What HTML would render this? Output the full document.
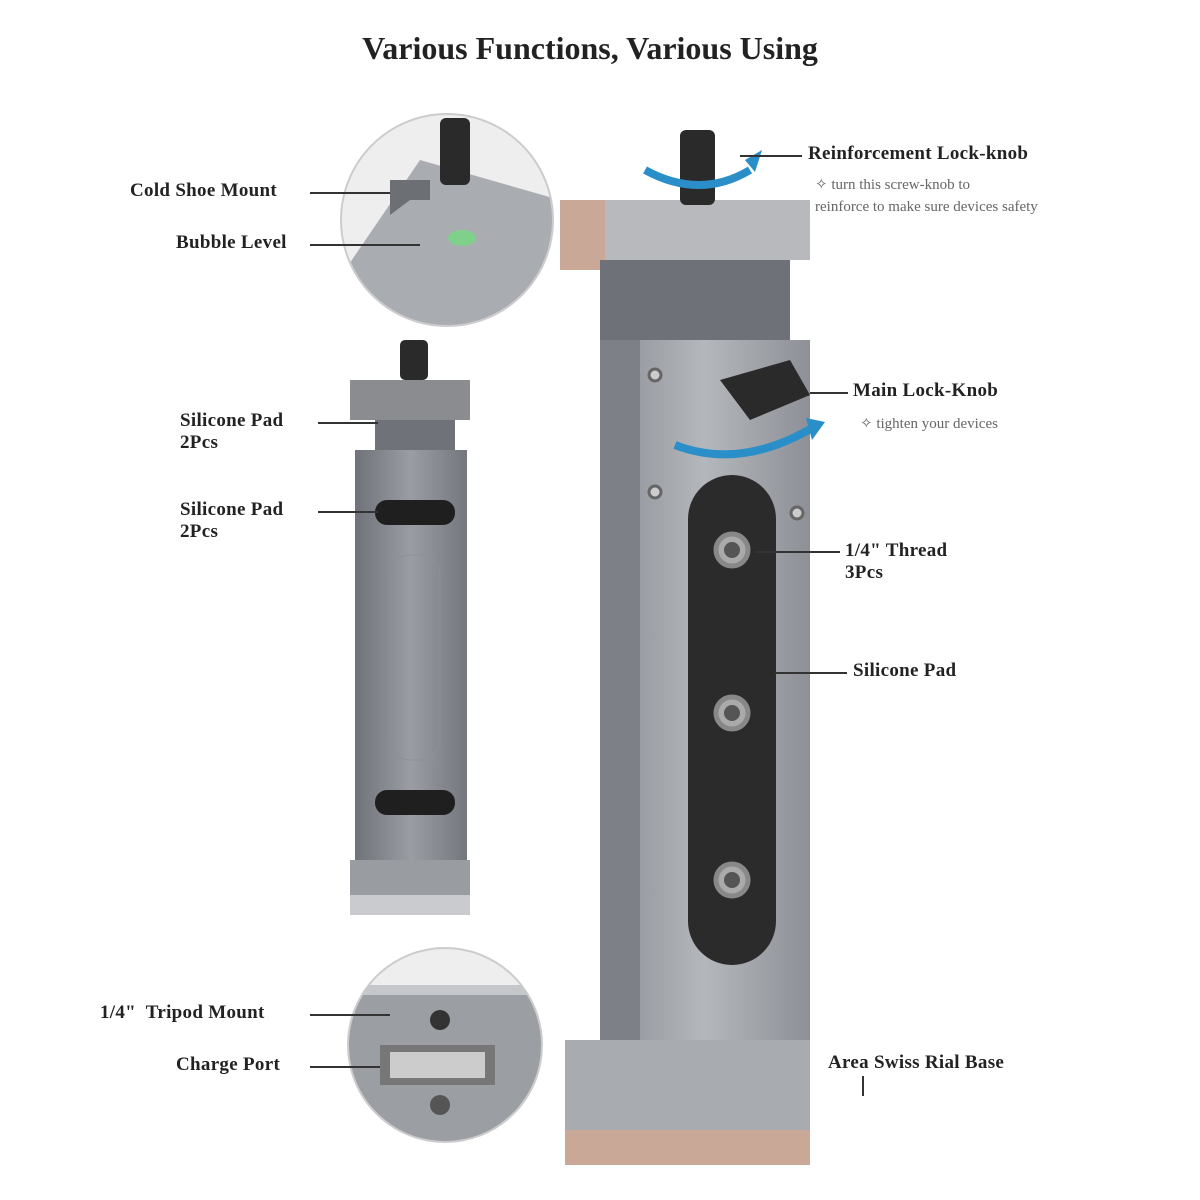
<!DOCTYPE html>
<html><head><style>
body{margin:0;width:1200px;height:1200px;background:#fff;position:relative;overflow:hidden;font-family:"Liberation Serif",serif}
.t{position:absolute;font-size:19px;color:#222;font-weight:bold;white-space:nowrap;letter-spacing:0.3px}
.s{position:absolute;font-size:15px;color:#666;white-space:nowrap}
.l{position:absolute;height:2px;background:#333}
</style></head><body>
<div style="position:absolute;top:30px;width:1180px;text-align:center;font-size:32px;font-weight:bold;color:#222">Various Functions, Various Using</div>
<svg width="1200" height="1200" style="position:absolute;left:0;top:0">
<defs><linearGradient id="g" x1="0" x2="1"><stop offset="0" stop-color="#8a8d93"/><stop offset=".5" stop-color="#b4b7bc"/><stop offset="1" stop-color="#8d9096"/></linearGradient>
<linearGradient id="g2" x1="0" x2="1"><stop offset="0" stop-color="#6f7278"/><stop offset=".5" stop-color="#9a9da3"/><stop offset="1" stop-color="#74777d"/></linearGradient>
<clipPath id="c1"><circle cx="447" cy="220" r="105"/></clipPath>
<clipPath id="c2"><circle cx="445" cy="1045" r="96"/></clipPath></defs>
<circle cx="447" cy="220" r="106" fill="#eee" stroke="#ccc" stroke-width="2"/>
<g clip-path="url(#c1)">
<path d="M345 270 L420 160 L560 200 L560 330 L340 330 Z" fill="#a9acb1"/>
<path d="M390 180 L430 180 L430 200 L410 200 L390 215 Z" fill="#6c6f74"/>
<rect x="440" y="118" width="30" height="67" rx="6" fill="#2a2a2a"/>
<ellipse cx="462" cy="238" rx="14" ry="8" fill="#7fd08a"/>
</g>
<rect x="350" y="380" width="120" height="40" fill="#8a8c90"/>
<rect x="400" y="340" width="28" height="40" rx="5" fill="#2a2a2a"/>
<rect x="375" y="420" width="80" height="30" fill="#6f7278"/>
<rect x="355" y="450" width="112" height="410" fill="url(#g2)"/>
<rect x="375" y="500" width="80" height="25" rx="12" fill="#1f1f1f"/>
<rect x="375" y="790" width="80" height="25" rx="12" fill="#1f1f1f"/>
<rect x="390" y="555" width="50" height="205" rx="20" fill="none" stroke="#8d9096"/>
<rect x="350" y="860" width="120" height="55" fill="#999ca1"/>
<rect x="350" y="895" width="120" height="20" fill="#c9cbce"/>
<rect x="560" y="200" width="250" height="60" fill="#b7b9bd"/>
<rect x="560" y="200" width="45" height="70" fill="#c9a898"/>
<rect x="680" y="130" width="35" height="75" rx="6" fill="#2a2a2a"/>
<rect x="600" y="260" width="190" height="80" fill="#6e7177"/>
<rect x="600" y="340" width="210" height="730" fill="url(#g)"/>
<rect x="600" y="340" width="40" height="730" fill="#7d8086"/>
<rect x="688" y="475" width="88" height="490" rx="44" fill="#2b2b2b"/>
<g fill="#aaa" stroke="#888" stroke-width="5"><circle cx="732" cy="550" r="16"/><circle cx="732" cy="713" r="16"/><circle cx="732" cy="880" r="16"/></g>
<g fill="#555"><circle cx="732" cy="550" r="8"/><circle cx="732" cy="713" r="8"/><circle cx="732" cy="880" r="8"/></g>
<g fill="#ccc" stroke="#666" stroke-width="3"><circle cx="655" cy="375" r="6"/><circle cx="655" cy="492" r="6"/><circle cx="797" cy="513" r="6"/><circle cx="660" cy="1057" r="6"/><circle cx="710" cy="1060" r="7"/><circle cx="755" cy="1050" r="7"/></g>
<path d="M720 380 L790 360 L810 395 L750 420 Z" fill="#2a2a2a"/>
<path d="M565 1040 L810 1040 L810 1130 L565 1130 Z" fill="#a8abb0"/>
<rect x="565" y="1130" width="245" height="35" fill="#c9a898"/>
<path d="M645 170 Q700 200 750 170" stroke="#2a8fc8" stroke-width="8" fill="none"/>
<path d="M745 160 L762 150 L755 172 Z" fill="#2a8fc8"/>
<path d="M675 445 Q740 470 812 428" stroke="#2a8fc8" stroke-width="8" fill="none"/>
<path d="M806 418 L825 422 L812 440 Z" fill="#2a8fc8"/>
<circle cx="445" cy="1045" r="97" fill="#eee" stroke="#ccc" stroke-width="2"/>
<g clip-path="url(#c2)">
<rect x="340" y="985" width="210" height="170" fill="#9b9ea3"/>
<rect x="340" y="985" width="210" height="10" fill="#c5c7ca"/>
<circle cx="440" cy="1020" r="10" fill="#333"/>
<rect x="380" y="1045" width="115" height="40" fill="#777"/>
<rect x="390" y="1052" width="95" height="26" fill="#ccc"/>
<circle cx="440" cy="1105" r="10" fill="#555"/>
</g>
</svg>
<div class="t" style="left:130px;top:180px">Cold Shoe Mount</div><div class="l" style="left:310px;top:192px;width:80px"></div>
<div class="t" style="left:176px;top:232px">Bubble Level</div><div class="l" style="left:310px;top:244px;width:110px"></div>
<div class="t" style="left:180px;top:410px">Silicone Pad<br>2Pcs</div><div class="l" style="left:318px;top:422px;width:60px"></div>
<div class="t" style="left:180px;top:499px">Silicone Pad<br>2Pcs</div><div class="l" style="left:318px;top:511px;width:60px"></div>
<div class="t" style="left:100px;top:1002px">1/4"&nbsp; Tripod Mount</div><div class="l" style="left:310px;top:1014px;width:80px"></div>
<div class="t" style="left:176px;top:1054px">Charge Port</div><div class="l" style="left:310px;top:1066px;width:70px"></div>
<div class="t" style="left:808px;top:143px">Reinforcement Lock-knob</div><div class="l" style="left:740px;top:155px;width:62px"></div>
<div class="s" style="left:815px;top:175px">✧ turn this screw-knob to</div>
<div class="s" style="left:815px;top:199px">reinforce to make sure devices safety</div>
<div class="t" style="left:853px;top:380px">Main Lock-Knob</div><div class="l" style="left:810px;top:392px;width:38px"></div>
<div class="s" style="left:860px;top:414px">✧ tighten your devices</div>
<div class="t" style="left:845px;top:540px">1/4" Thread<br>3Pcs</div><div class="l" style="left:755px;top:551px;width:85px"></div>
<div class="t" style="left:853px;top:660px">Silicone Pad</div><div class="l" style="left:775px;top:672px;width:72px"></div>
<div class="t" style="left:828px;top:1052px">Area Swiss Rial Base</div><div class="l" style="left:862px;top:1076px;width:2px;height:20px"></div>
</body></html>
